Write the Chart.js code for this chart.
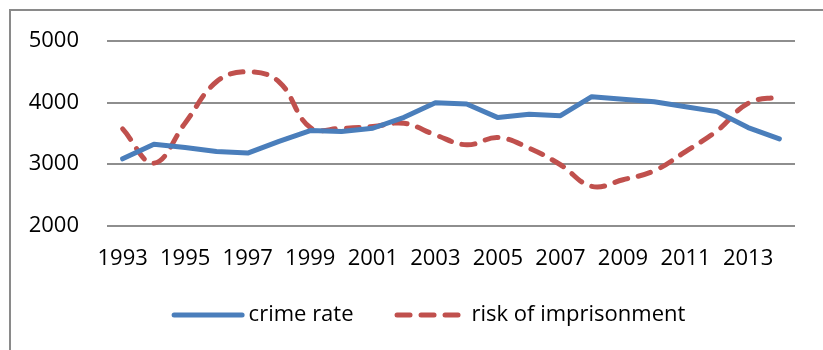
<!DOCTYPE html>
<html>
<head>
<meta charset="utf-8">
<script src="https://cdn.jsdelivr.net/npm/chart.js@4"></script>
<style>
  html, body { margin: 0; padding: 0; background: #fff; }
  #wrap { position: relative; width: 823px; height: 350px; }
  #frame { position: absolute; left: 9px; top: 9px; right: -2px; bottom: -2px; border-top: 2px solid #8a8a8a; border-left: 2px solid #8a8a8a; pointer-events: none; }
  canvas { position: absolute; left: 0; top: 0; }
</style>
</head>
<body>
<div id="wrap">
  <canvas id="c" width="823" height="350"></canvas>
  <div id="frame"></div>
</div>
<script>
const years = ['1993','1994','1995','1996','1997','1998','1999','2000','2001','2002','2003','2004','2005','2006','2007','2008','2009','2010','2011','2012','2013','2014'];
const crimeRate = [3086,3324,3270,3205,3180,3370,3546,3530,3584,3762,4000,3978,3757,3811,3789,4097,4054,4016,3935,3854,3595,3411];
const riskOfImprisonment = [3573,3016,3670,4340,4503,4340,3595,3584,3611,3665,3476,3314,3432,3260,2990,2638,2746,2892,3205,3540,3989,4097];
const yTicks = [2000,3000,4000,5000];
const seriesNames = ['crime rate','risk of imprisonment'];

const FONT = "'Open Sans', 'Liberation Sans', sans-serif";
const DASH = [13, 11];

// Legend drawn below the plot, Excel style (line samples + text)
const bottomLegend = {
  id: 'bottomLegend',
  afterDraw(chart) {
    const ctx = chart.ctx;
    const ds = chart.data.datasets;
    const sample = 68, cap = 2.5, textGap = 77, itemGap = 41, y = 315;
    ctx.save();
    ctx.font = "22px " + FONT;
    const widths = ds.map(d => textGap + ctx.measureText(d.label).width);
    const total = widths.reduce((a, b) => a + b, 0) + itemGap * (ds.length - 1);
    let x = (chart.width - total) / 2 + 17;
    ds.forEach((d, i) => {
      ctx.beginPath();
      ctx.lineWidth = d.borderWidth;
      ctx.strokeStyle = d.borderColor;
      ctx.lineCap = 'round';
      ctx.setLineDash(d.borderDash || []);
      ctx.moveTo(x + cap, y);
      ctx.lineTo(x + cap + sample, y);
      ctx.stroke();
      ctx.setLineDash([]);
      ctx.fillStyle = '#000';
      ctx.textAlign = 'left';
      ctx.textBaseline = 'middle';
      ctx.fillText(d.label, x + textGap, y);
      x += widths[i] + itemGap;
    });
    ctx.restore();
  }
};

new Chart(document.getElementById('c'), {
  type: 'line',
  data: {
    labels: years,
    datasets: [
      {
        label: seriesNames[0],
        data: crimeRate,
        borderColor: '#4a7ebb',
        backgroundColor: '#4a7ebb',
        borderWidth: 5,
        borderCapStyle: 'round',
        borderJoinStyle: 'round',
        pointRadius: 0,
        tension: 0
      },
      {
        label: seriesNames[1],
        data: riskOfImprisonment,
        borderColor: '#c0504d',
        backgroundColor: '#c0504d',
        borderWidth: 5,
        borderDash: DASH,
        borderCapStyle: 'round',
        borderJoinStyle: 'round',
        pointRadius: 0,
        tension: 0.4
      }
    ]
  },
  plugins: [bottomLegend],
  options: {
    responsive: false,
    animation: false,
    devicePixelRatio: 1,
    layout: { autoPadding: false, padding: { left: 28, right: 28, top: 22, bottom: 58 } },
    plugins: {
      tooltip: { enabled: false },
      legend: { display: false }
    },
    scales: {
      x: {
        offset: true,
        grid: { display: false, drawTicks: false },
        border: { display: false },
        afterFit: function(scale) { scale.paddingLeft = 0; scale.paddingRight = 0; },
        ticks: {
          autoSkip: false,
          maxRotation: 0,
          minRotation: 0,
          padding: 20,
          color: '#000',
          font: { family: FONT, size: 22 },
          callback: function(v, i) { return i % 2 === 0 ? years[i] : ''; }
        }
      },
      y: {
        min: yTicks[0],
        max: yTicks[yTicks.length - 1],
        afterBuildTicks: function(axis) { axis.ticks = yTicks.map(v => ({ value: v })); },
        afterFit: function(scale) { scale.width = 79; },
        grid: { color: '#8e8e8e', lineWidth: 2, drawTicks: false },
        border: { display: false },
        ticks: {
          padding: 28,
          color: '#000',
          font: { family: FONT, size: 22 },
          callback: function(v) { return String(v); }
        }
      }
    }
  }
});
</script>
</body>
</html>
